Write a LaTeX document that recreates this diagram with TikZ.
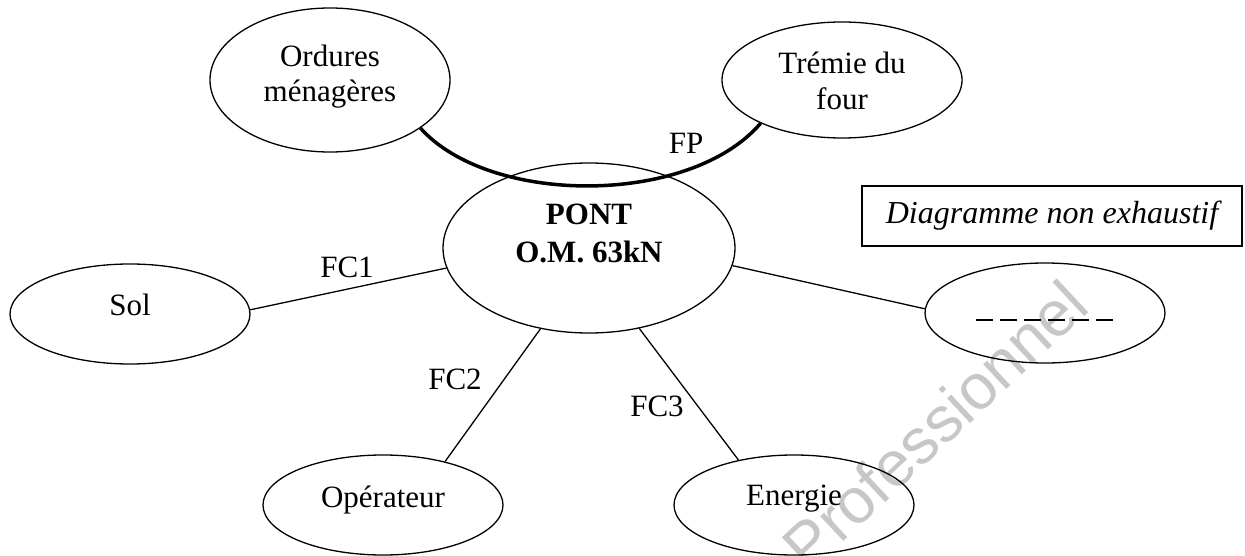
\documentclass[tikz,border=0pt]{standalone}
\usepackage{fontspec}
\setmainfont{Liberation Serif}
\newfontfamily\wmfont{Liberation Sans}
\usetikzlibrary{shapes.geometric}
\begin{document}
\begin{tikzpicture}[x=1pt,y=-1pt,
  ell/.style={draw, ellipse, line width=1.3pt, inner sep=0pt},
  side/.style={ell, minimum width=240pt, minimum height=100pt},
  txt/.style={font=\fontsize{31}{36}\selectfont, align=center, inner sep=0pt},
  lnk/.style={line width=1.3pt},
  fplink/.style={line width=3.5pt},
]
\useasboundingbox (0,0) rectangle (1245,556);
% ellipses
\node[ell, minimum width=240pt, minimum height=144pt] (ord) at (330,80) {};
\node[ell, minimum width=240pt, minimum height=116pt] (trem) at (842,80) {};
\node[ell, minimum width=292pt, minimum height=170pt] (pont) at (589,248) {};
\node[side] (sol) at (130,314) {};
\node[side] (rt) at (1045,313) {};
\node[side] (op) at (383,505) {};
\node[side] (en) at (794,505) {};
% texts in ellipses
\node[txt, font=\fontsize{31}{35}\selectfont] (ordT) at (330,77) {Ordures\\ménagères};
\node[txt] (tremT) at (842,81) {Trémie du\\four};
\node[txt, font=\fontsize{31}{38}\selectfont\bfseries] (pontT) at (589,233) {PONT\\O.M. 63kN};
\node[txt] (solT) at (130,305) {Sol};
\node[txt] (opT) at (383,500) {Opérateur};
\node[txt] (enT) at (794,499) {Energie};
\draw[lnk, dash pattern=on 17pt off 7pt] ([xshift=-69pt,yshift=-7pt]rt.center) -- ([xshift=69pt,yshift=-7pt]rt.center);
% connectors
\draw[fplink] (ord.-28) .. controls (490,206) and (690,206) .. (trem.-152);
\draw[lnk] (sol.2) -- (pont.188);
\draw[lnk] (pont.-7.5) -- (rt.178);
\draw[lnk] (pont.-121) -- (op.35);
\draw[lnk] (pont.-58) -- (en.141);
% labels
\node[txt] (fp) at (686,143) {FP};
\node[txt] (fc1) at (347,267) {FC1};
\node[txt] (fc2) at (455,379) {FC2};
\node[txt] (fc3) at (657,406) {FC3};
% note box
\node[draw, line width=1.3pt, minimum width=380pt, minimum height=60pt, inner sep=0pt,
      font=\fontsize{32}{38}\selectfont\itshape] (note) at (1052,216) {Diagramme non exhaustif};
% watermark
\node[font=\wmfont\fontsize{64}{70}\selectfont, text opacity=0.22, rotate=43, inner sep=0pt] (wm) at (935,425) {Professionnel};
\end{tikzpicture}
\end{document}
